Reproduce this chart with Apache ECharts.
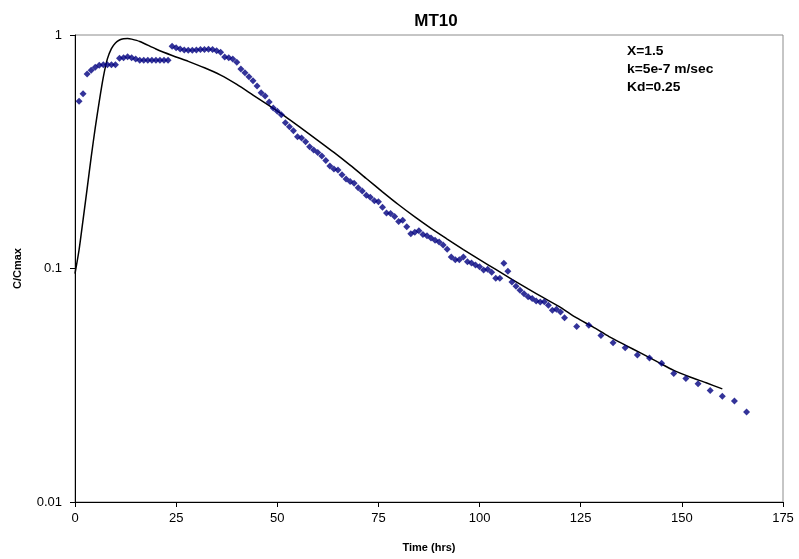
<!DOCTYPE html>
<html>
<head>
<meta charset="utf-8">
<script src="https://cdn.jsdelivr.net/npm/echarts@6/dist/echarts.min.js"></script>
<style>
  html, body { margin: 0; padding: 0; background: #fff; }
  #chart { width: 799px; height: 559px; }
</style>
</head>
<body>
<div id="chart"></div>
<script>
// Measured breakthrough, MT10: time (hrs) and relative concentration C/Cmax
const obsTime = [
  1, 2, 3, 4, 5, 6, 7, 8, 9, 10,
  11, 12, 13, 14, 15, 16, 17, 18, 19, 20,
  21, 22, 23, 24, 25, 26, 27, 28, 29, 30,
  31, 32, 33, 34, 35, 36, 37, 38, 39, 40,
  41, 42, 43, 44, 45, 46, 47, 48, 49, 50,
  51, 52, 53, 54, 55, 56, 57, 58, 59, 60,
  61, 62, 63, 64, 65, 66, 67, 68, 69, 70,
  71, 72, 73, 74, 75, 76, 77, 78, 79, 80,
  81, 82, 83, 84, 85, 86, 87, 88, 89, 90,
  91, 92, 93, 94, 95, 96, 97, 98, 99, 100,
  101, 102, 103, 104, 105, 106, 107, 108, 109, 110,
  111, 112, 113, 114, 115, 116, 117, 118, 119, 120,
  121, 124, 127, 130, 133, 136, 139, 142, 145, 148,
  151, 154, 157, 160, 163, 166
];
const obsConc = [
  0.52, 0.56, 0.68, 0.706, 0.727, 0.742, 0.746, 0.746, 0.746, 0.746,
  0.795, 0.80, 0.807, 0.80, 0.79, 0.779, 0.779, 0.779, 0.779, 0.779,
  0.779, 0.779, 0.779, 0.894, 0.882, 0.871, 0.862, 0.86, 0.86, 0.862,
  0.866, 0.866, 0.868, 0.866, 0.857, 0.843, 0.805, 0.80, 0.789, 0.764,
  0.715, 0.69, 0.663, 0.637, 0.605, 0.566, 0.548, 0.517, 0.487, 0.472,
  0.456, 0.421, 0.405, 0.389, 0.367, 0.362, 0.349, 0.332, 0.322, 0.314,
  0.303, 0.29, 0.275, 0.267, 0.264, 0.252, 0.242, 0.236, 0.232, 0.222,
  0.215, 0.206, 0.202, 0.195, 0.193, 0.183, 0.173, 0.172, 0.167, 0.159,
  0.161, 0.151, 0.141, 0.143, 0.145, 0.14, 0.138, 0.135, 0.132, 0.130,
  0.126, 0.121, 0.112, 0.109, 0.109, 0.112, 0.107, 0.1056, 0.1035, 0.1018,
  0.0986, 0.0993, 0.0964, 0.0908, 0.0908, 0.1053, 0.0973, 0.0875, 0.0839, 0.0807,
  0.078, 0.0757, 0.0743, 0.0726, 0.0719, 0.0721, 0.0696, 0.0662, 0.0669, 0.0651,
  0.0616, 0.0565, 0.0571, 0.0516, 0.0481, 0.0458, 0.0426, 0.0414, 0.0393, 0.0355,
  0.0338, 0.0321, 0.030, 0.0284, 0.0271, 0.0243
];

// Model curve (X=1.5, k=5e-7 m/sec, Kd=0.25)
const modelTime = [
  0, 1, 2, 3, 4, 5, 6, 7, 8, 9,
  10, 11, 12, 13, 14, 16, 20, 24, 28, 32,
  36, 40, 44, 48, 52, 56, 60, 64, 68, 72,
  76, 80, 84, 88, 92, 96, 100, 104, 108, 112,
  116, 120, 124, 128, 132, 136, 140, 144, 148, 152,
  156, 160
];
const modelConc = [
  0.095, 0.12, 0.162, 0.22, 0.3, 0.4, 0.52, 0.66, 0.79, 0.875,
  0.925, 0.952, 0.964, 0.966, 0.96, 0.938, 0.871, 0.817, 0.771, 0.724,
  0.673, 0.614, 0.553, 0.498, 0.447, 0.398, 0.354, 0.314, 0.277, 0.243,
  0.213, 0.1875, 0.1663, 0.1486, 0.1337, 0.1205, 0.1091, 0.0991, 0.0899, 0.0818,
  0.0746, 0.0682, 0.0614, 0.0562, 0.0511, 0.047, 0.0433, 0.0398, 0.0366, 0.0343,
  0.0324, 0.0305
];

const xTicks = { min: 0, max: 175, step: 25 };
const yRange = { min: 0.01, max: 1 };
const titleText = 'MT10';
const noteLines = ['X=1.5', 'k=5e-7 m/sec', 'Kd=0.25'];

const pair = (xs, ys) => xs.map((x, i) => [x, ys[i]]);

const FONT = 'Liberation Sans, Arial, sans-serif';
const chart = echarts.init(document.getElementById('chart'), null, { renderer: 'canvas' });

chart.setOption({
  animation: false,
  backgroundColor: '#ffffff',
  title: {
    text: titleText,
    left: 431,
    top: 8,
    textAlign: 'center',
    textStyle: { fontFamily: FONT, fontSize: 17, fontWeight: 'bold', color: '#000' }
  },
  grid: {
    left: 75, top: 35, right: 16, bottom: 57,
    show: true,
    borderColor: '#8c8c8c',
    borderWidth: 1,
    backgroundColor: '#ffffff'
  },
  xAxis: {
    type: 'value',
    min: xTicks.min,
    max: xTicks.max,
    interval: xTicks.step,
    name: 'Time (hrs)',
    nameLocation: 'middle',
    nameGap: 40,
    nameTextStyle: { fontFamily: FONT, fontSize: 11, fontWeight: 'bold', color: '#000' },
    axisLine: { show: true, onZero: false, lineStyle: { color: '#000', width: 1 } },
    axisTick: { show: true, inside: false, length: 5, lineStyle: { color: '#000' } },
    axisLabel: { margin: 10, fontFamily: FONT, fontSize: 13, color: '#000' },
    splitLine: { show: false }
  },
  yAxis: {
    type: 'log',
    logBase: 10,
    min: yRange.min,
    max: yRange.max,
    name: 'C/Cmax',
    nameLocation: 'middle',
    nameGap: 52,
    nameTextStyle: { fontFamily: FONT, fontSize: 11, fontWeight: 'bold', color: '#000' },
    axisLine: { show: true, lineStyle: { color: '#000', width: 1 } },
    axisTick: { show: true, inside: false, length: 5, lineStyle: { color: '#000' } },
    minorTick: { show: false },
    axisLabel: {
      margin: 13, fontFamily: FONT, fontSize: 13, color: '#000',
      formatter: v => String(+v.toPrecision(3))
    },
    splitLine: { show: false }
  },
  graphic: [{
    type: 'group',
    left: 627,
    top: 46,
    children: noteLines.map((t, i) => ({
      type: 'text',
      top: i * 18,
      scaleX: 1.15,
      style: { text: t, font: 'bold 12px ' + FONT, fill: '#000' }
    }))
  }],
  series: [
    {
      name: 'model',
      type: 'line',
      data: pair(modelTime, modelConc),
      smooth: 0.25,
      showSymbol: false,
      lineStyle: { color: '#000', width: 1.5 },
      z: 3
    },
    {
      name: 'measured',
      type: 'scatter',
      data: pair(obsTime, obsConc),
      symbol: 'diamond',
      symbolSize: 7,
      itemStyle: { color: '#000080' },
      z: 4
    }
  ]
});
</script>
</body>
</html>
